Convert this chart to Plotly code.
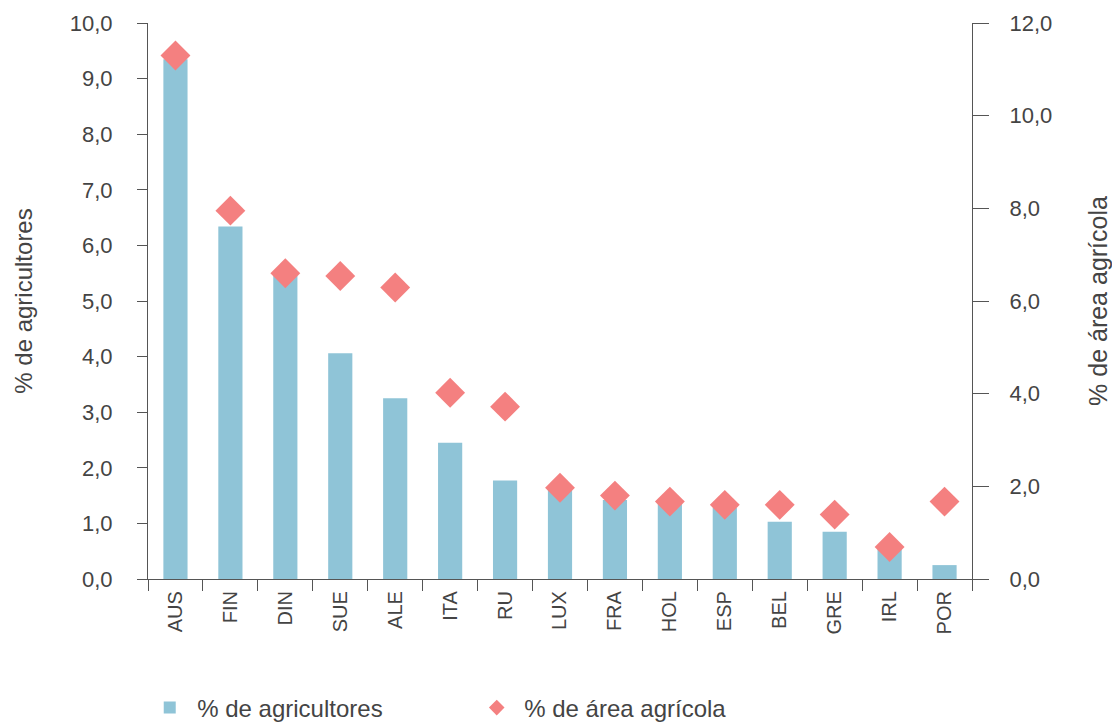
import plotly.graph_objects as go

countries = ["AUS", "FIN", "DIN", "SUE", "ALE", "ITA", "RU", "LUX", "FRA", "HOL", "ESP", "BEL", "GRE", "IRL", "POR"]
pct_agricultores = [9.35, 6.34, 5.45, 4.06, 3.25, 2.45, 1.77, 1.6, 1.42, 1.35, 1.28, 1.03, 0.85, 0.54, 0.25]
pct_area_agricola = [11.3, 7.95, 6.6, 6.54, 6.29, 4.02, 3.72, 1.97, 1.8, 1.67, 1.6, 1.6, 1.39, 0.69, 1.67]

BAR_COLOR = "#8fc4d7"
DIAMOND_COLOR = "#f48080"
TXT = "#444444"
AXIS = "#555555"
FONT = "Liberation Sans, Arial, sans-serif"

fig = go.Figure()
fig.add_trace(go.Bar(
    x=countries, y=pct_agricultores, name="% de agricultores",
    marker=dict(color=BAR_COLOR, line=dict(width=0)), width=0.44, yaxis="y",
))
fig.add_trace(go.Scatter(
    x=countries, y=pct_area_agricola, name="% de área agrícola", mode="markers",
    marker=dict(symbol="diamond", size=23, color=DIAMOND_COLOR, line=dict(width=0)),
    yaxis="y2",
))

tickfont = dict(family=FONT, size=22, color=TXT)
fig.update_layout(
    width=1112, height=723,
    margin=dict(l=148, r=140, t=23, b=144, autoexpand=False),
    paper_bgcolor="white", plot_bgcolor="white",
    separators=",.",
    bargap=0.56,
    font=dict(family=FONT, color=TXT),
    xaxis=dict(
        type="category", tickson="boundaries", ticks="outside", ticklen=11, tickwidth=1.2,
        tickcolor=AXIS, showline=True, linecolor=AXIS, linewidth=1.2, showgrid=False,
        tickangle=-90, tickfont=dict(family=FONT, size=20, color=TXT), range=[-0.5, 14.5],
        automargin=False, ticklabelstandoff=3,
    ),
    yaxis=dict(
        range=[0, 10], dtick=1, tickformat=".1f", ticks="outside", ticklen=10, tickwidth=1.2,
        tickcolor=AXIS, showline=True, linecolor=AXIS, linewidth=1.2, showgrid=False,
        zeroline=False, tickfont=tickfont, automargin=False, ticklabelstandoff=20,
        title=dict(text="% de agricultores", font=dict(family=FONT, size=24, color=TXT), standoff=30),
    ),
    yaxis2=dict(
        range=[0, 12], dtick=2, tickformat=".1f", overlaying="y", side="right",
        ticks="outside", ticklen=16, tickwidth=1.2, tickcolor=AXIS, showline=True,
        linecolor=AXIS, linewidth=1.2, showgrid=False, zeroline=False, tickfont=tickfont,
        automargin=False, ticklabelstandoff=16,
        title=dict(text="% de área agrícola", font=dict(family=FONT, size=25, color=TXT), standoff=40),
    ),
    legend=dict(
        orientation="h", x=-0.007, xanchor="left", y=-0.232, yanchor="middle",
        font=dict(family=FONT, size=24, color=TXT), entrywidth=267, itemwidth=45,
        itemsizing="constant", bgcolor="rgba(0,0,0,0)",
    ),
    showlegend=True,
)

fig.write_html("out.html")
